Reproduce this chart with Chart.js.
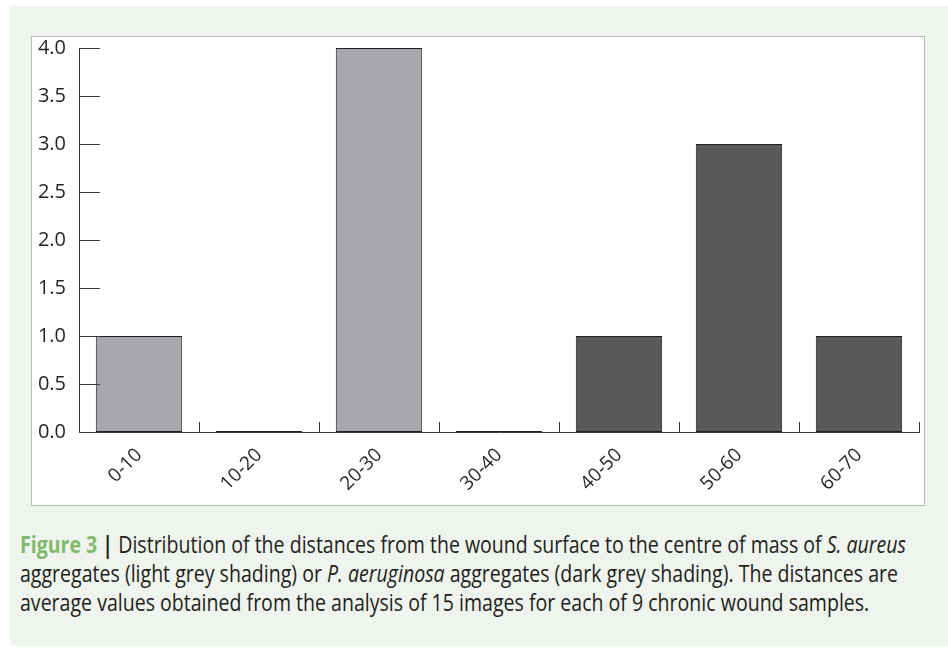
<!DOCTYPE html>
<html>
<head>
<meta charset="utf-8">
<script src="https://cdn.jsdelivr.net/npm/chart.js@4/dist/chart.umd.min.js"></script>
<style>
  body { margin: 0; background: #ffffff; width: 948px; height: 651px; overflow: hidden; }
  .panel { position: absolute; left: 10px; top: 6px; width: 938px; height: 640px; background: #eff4ee; }
  .box { position: absolute; left: 21px; top: 30px; width: 892px; height: 468px; background: #fff; border: 1px solid #b8b8b8; }
  .box canvas { position: absolute; left: 0; top: -12px; }
  .caption { position: absolute; left: 10px; top: 524px; font-family: "Open Sans", sans-serif; font-size: 23px; line-height: 29px; color: #231f20; white-space: nowrap; transform: scaleX(0.85); transform-origin: 0 0; }
  .caption .fig { color: #80b96b; font-weight: bold; }
  .caption .bar { font-weight: bold; color: #231f20; }
</style>
</head>
<body>
<div class="panel">
  <div class="box"><canvas id="chart" width="892" height="480"></canvas></div>
  <div class="caption">
    <span class="fig">Figure 3</span> <span class="bar">|</span> Distribution of the distances from the wound surface to the centre of mass of <i>S. aureus</i><br>
    aggregates (light grey shading) or <i>P. aeruginosa</i> aggregates (dark grey shading). The distances are<br>
    average values obtained from the analysis of 15 images for each of 9 chronic wound samples.
  </div>
</div>
<script>
// distance bins (µm) and counts
const categories = ['0-10', '10-20', '20-30', '30-40', '40-50', '50-60', '60-70'];
const aureusValues = [1, 0, 4, 0, null, null, null];       // light grey
const aeruginosaValues = [null, null, null, null, 1, 3, 1]; // dark grey
const yTicks = [0, 0.5, 1, 1.5, 2, 2.5, 3, 3.5, 4];

const axisColor = '#3a3a3a';

// short tick marks drawn inward from the axes (like the original)
const innerTicks = {
  id: 'innerTicks',
  afterDraw(chart) {
    const { ctx, scales: { x, y } } = chart;
    ctx.save();
    ctx.strokeStyle = axisColor;
    ctx.lineWidth = 1;
    ctx.beginPath();
    yTicks.forEach(v => {
      const py = Math.round(y.getPixelForValue(v)) + 0.5;
      ctx.moveTo(x.left, py);
      ctx.lineTo(x.left + 21, py);
    });
    for (let i = 1; i <= categories.length; i++) {
      const px = Math.round(x.getPixelForValue(i - 0.5)) + 0.5;
      ctx.moveTo(px, y.bottom);
      ctx.lineTo(px, y.bottom - 10);
    }
    ctx.stroke();
    ctx.restore();
  }
};

new Chart(document.getElementById('chart').getContext('2d'), {
  type: 'bar',
  data: {
    labels: categories,
    datasets: [
      {
        label: 'S. aureus',
        data: aureusValues,
        backgroundColor: '#a7a8ab',
        borderColor: '#231f20',
        borderWidth: 1,
        borderSkipped: false,
        minBarLength: 1
      },
      {
        label: 'P. aeruginosa',
        data: aeruginosaValues,
        backgroundColor: '#58595b',
        borderColor: '#231f20',
        borderWidth: 1,
        borderSkipped: false
      }
    ]
  },
  options: {
    responsive: false,
    animation: false,
    layout: { padding: { top: 0, right: 5, left: 0, bottom: 0 } },
    datasets: { bar: { barPercentage: 0.72, categoryPercentage: 1 } },
    plugins: { legend: { display: false }, tooltip: { enabled: false } },
    scales: {
      x: {
        stacked: true,
        grid: { display: false, drawTicks: false },
        border: { display: true, color: axisColor, width: 1 },
        ticks: {
          maxRotation: 45,
          minRotation: 45,
          padding: 12,
          color: '#231f20',
          font: { family: 'Open Sans', size: 19 }
        },
        afterFit(scale) { scale.height = 73; }
      },
      y: {
        stacked: true,
        min: 0,
        max: 4,
        grid: { display: false, drawTicks: false },
        border: { display: true, color: axisColor, width: 1 },
        ticks: {
          stepSize: 0.5,
          padding: 13,
          color: '#231f20',
          font: { family: 'Open Sans', size: 20, lineHeight: 1 },
          callback: v => Number(v).toFixed(1)
        },
        afterFit(scale) { scale.width = 47; }
      }
    }
  },
  plugins: [innerTicks]
});
</script>
</body>
</html>
